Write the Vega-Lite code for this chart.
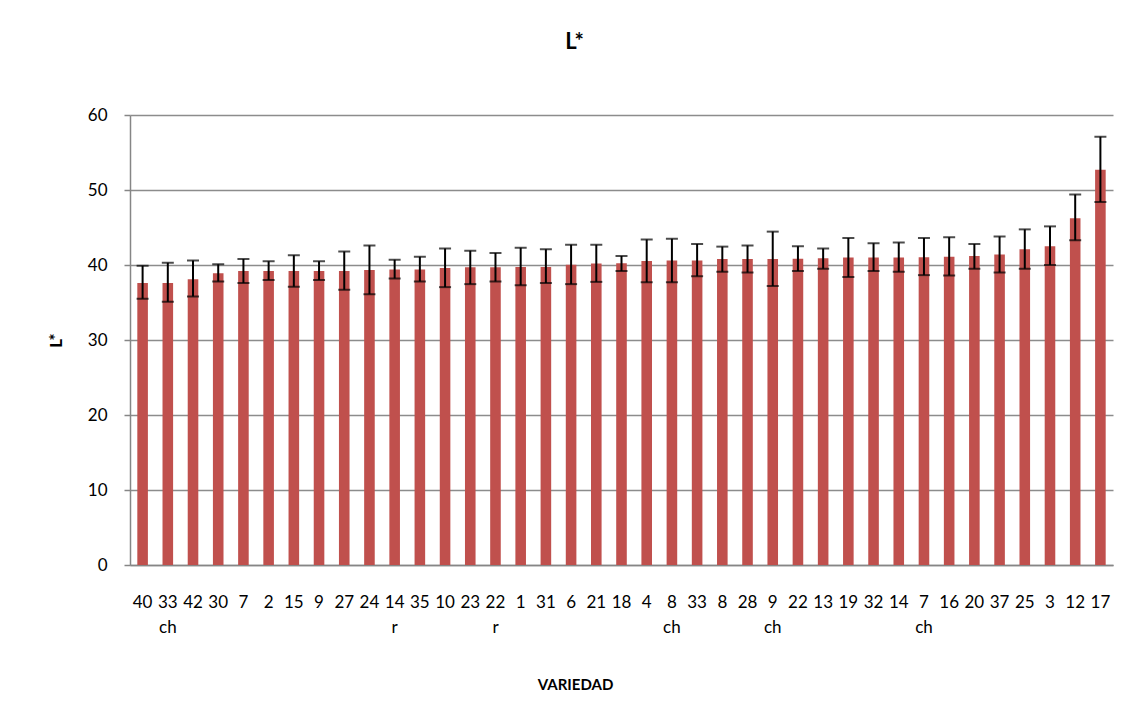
{
  "$schema": "https://vega.github.io/schema/vega-lite/v6.json",
  "width": 983,
  "height": 450,
  "autosize": "none",
  "padding": {"left": 130, "top": 115, "right": 18, "bottom": 145},
  "background": "white",
  "config": {
    "view": {"stroke": null},
    "font": "Lato"
  },
  "title": {
    "text": "L*",
    "fontSize": 22,
    "fontWeight": "bold",
    "font": "Lato",
    "color": "black",
    "anchor": "middle",
    "dx": -47,
    "offset": 52
  },
  "data": {
    "values": [
      {"v": "40", "mean": 37.6, "lo": 35.5, "hi": 39.9},
      {"v": "33 ch", "mean": 37.6, "lo": 35.1, "hi": 40.3},
      {"v": "42", "mean": 38.1, "lo": 35.8, "hi": 40.6},
      {"v": "30", "mean": 38.9, "lo": 37.8, "hi": 40.1},
      {"v": "7", "mean": 39.2, "lo": 37.6, "hi": 40.8},
      {"v": "2", "mean": 39.2, "lo": 38.0, "hi": 40.5},
      {"v": "15", "mean": 39.2, "lo": 37.1, "hi": 41.3},
      {"v": "9", "mean": 39.2, "lo": 38.0, "hi": 40.5},
      {"v": "27", "mean": 39.2, "lo": 36.7, "hi": 41.8},
      {"v": "24", "mean": 39.35, "lo": 36.1, "hi": 42.6},
      {"v": "14 r", "mean": 39.4, "lo": 38.2, "hi": 40.7},
      {"v": "35", "mean": 39.4, "lo": 37.8, "hi": 41.1},
      {"v": "10", "mean": 39.6, "lo": 37.05, "hi": 42.2},
      {"v": "23", "mean": 39.7, "lo": 37.45, "hi": 41.9},
      {"v": "22 r", "mean": 39.7, "lo": 37.8, "hi": 41.6},
      {"v": "1", "mean": 39.75, "lo": 37.3, "hi": 42.3},
      {"v": "31", "mean": 39.75, "lo": 37.6, "hi": 42.1},
      {"v": "6", "mean": 40.05, "lo": 37.45, "hi": 42.7},
      {"v": "21", "mean": 40.2, "lo": 37.75, "hi": 42.7},
      {"v": "18", "mean": 40.25, "lo": 39.2, "hi": 41.2},
      {"v": "4", "mean": 40.55, "lo": 37.7, "hi": 43.4},
      {"v": "8 ch", "mean": 40.6, "lo": 37.7, "hi": 43.5},
      {"v": "33", "mean": 40.6, "lo": 38.5, "hi": 42.8},
      {"v": "8", "mean": 40.8, "lo": 39.1, "hi": 42.45},
      {"v": "28", "mean": 40.8, "lo": 39.0, "hi": 42.6},
      {"v": "9 ch", "mean": 40.8, "lo": 37.2, "hi": 44.45},
      {"v": "22", "mean": 40.85, "lo": 39.2, "hi": 42.5},
      {"v": "13", "mean": 40.9, "lo": 39.5, "hi": 42.2},
      {"v": "19", "mean": 41.0, "lo": 38.4, "hi": 43.6},
      {"v": "32", "mean": 41.0, "lo": 39.2, "hi": 42.9},
      {"v": "14", "mean": 41.0, "lo": 39.1, "hi": 43.0},
      {"v": "7 ch", "mean": 41.05, "lo": 38.65, "hi": 43.6},
      {"v": "16", "mean": 41.1, "lo": 38.6, "hi": 43.7},
      {"v": "20", "mean": 41.2, "lo": 39.5, "hi": 42.8},
      {"v": "37", "mean": 41.4, "lo": 39.0, "hi": 43.8},
      {"v": "25", "mean": 42.1, "lo": 39.5, "hi": 44.75},
      {"v": "3", "mean": 42.5, "lo": 40.0, "hi": 45.15},
      {"v": "12", "mean": 46.25, "lo": 43.3, "hi": 49.4},
      {"v": "17", "mean": 52.7, "lo": 48.4, "hi": 57.1}
    ]
  },
  "encoding": {
    "x": {
      "field": "v",
      "type": "nominal",
      "sort": null,
      "scale": {"paddingInner": 0.58, "paddingOuter": 0.29},
      "axis": {
        "title": "VARIEDAD",
        "titleFont": "Lato",
        "titleFontSize": 15,
        "titleFontWeight": "bold",
        "titleColor": "black",
        "titleX": 445,
        "titleY": 119,
        "titleBaseline": "middle",
        "titleAlign": "center",
        "labelAngle": 0,
        "labelFont": "Lato",
        "labelFontSize": 17,
        "labelColor": "black",
        "labelAlign": "center",
        "labelBaseline": "top",
        "labelPadding": 29,
        "labelLineHeight": 25,
        "labelOverlap": false,
        "labelExpr": "split(datum.label, ' ')",
        "ticks": false,
        "tickSize": 0,
        "domainColor": "#868686",
        "domainWidth": 1.5,
        "grid": false
      }
    }
  },
  "layer": [
    {
      "mark": {"type": "bar", "color": "#C0504D"},
      "encoding": {
        "y": {
          "field": "mean",
          "type": "quantitative",
          "scale": {"domain": [0, 60], "nice": false},
          "axis": {
            "title": "L*",
            "titleFont": "Lato",
            "titleFontSize": 17,
            "titleFontWeight": "bold",
            "titleColor": "black",
            "titleX": -74,
            "titleY": 225,
            "titleAngle": -90,
            "titleAlign": "center",
            "titleBaseline": "middle",
            "values": [0, 10, 20, 30, 40, 50, 60],
            "labelFont": "Lato",
            "labelFontSize": 17,
            "labelColor": "black",
            "labelPadding": 17,
            "tickSize": 6,
            "tickColor": "#868686",
            "tickWidth": 1.5,
            "domainColor": "#868686",
            "domainWidth": 1.5,
            "grid": true,
            "gridColor": "#8c8c8c",
            "gridWidth": 1.5
          }
        }
      }
    },
    {
      "mark": {"type": "rule", "color": "black", "strokeWidth": 2},
      "encoding": {
        "y": {"field": "lo", "type": "quantitative"},
        "y2": {"field": "hi"}
      }
    },
    {
      "mark": {"type": "tick", "color": "black", "orient": "horizontal", "size": 12, "thickness": 2},
      "encoding": {
        "y": {"field": "lo", "type": "quantitative"}
      }
    },
    {
      "mark": {"type": "tick", "color": "black", "orient": "horizontal", "size": 12, "thickness": 2},
      "encoding": {
        "y": {"field": "hi", "type": "quantitative"}
      }
    }
  ]
}
